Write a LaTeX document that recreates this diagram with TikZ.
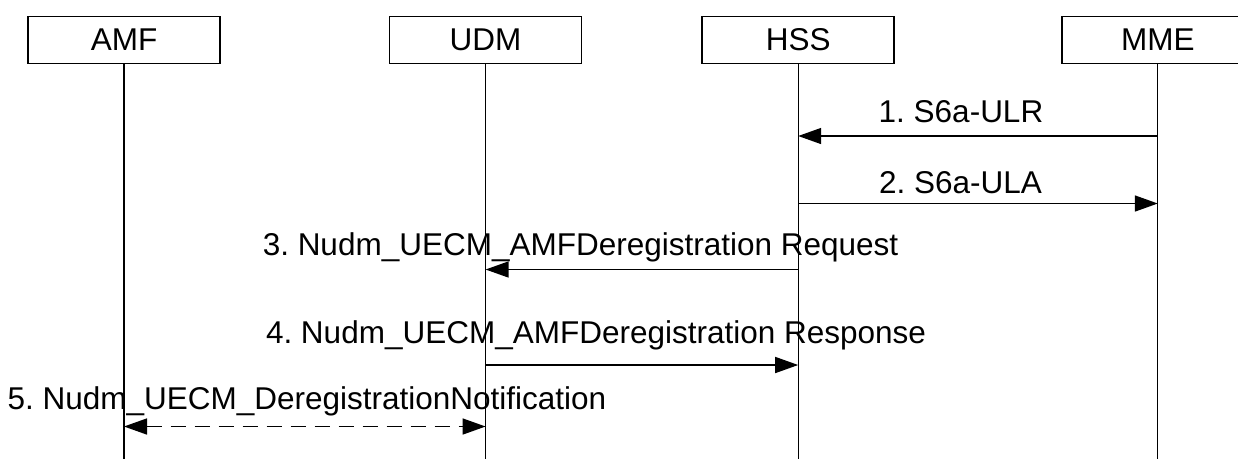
\documentclass[tikz,border=0pt]{standalone}
\usepackage{fontspec}
\setmainfont{Liberation Sans}
\usetikzlibrary{arrows.meta,positioning}
\frenchspacing

\begin{document}
\begin{tikzpicture}[
    x=1pt, y=-1pt,
    font=\fontsize{31.5}{38}\selectfont,
    entitynode/.style={rectangle, draw=black, line width=1.6pt, minimum width=192pt, minimum height=47pt, inner sep=0pt},
    lifeline/.style={draw=black, line width=1.1pt},
    msgarrow/.style={line width=1.5pt, -{Triangle[length=23pt,width=16pt]}},
    notifyarrow/.style={line width=1.5pt, {Triangle[length=23pt,width=16pt]}-{Triangle[length=23pt,width=16pt]}, dash pattern=on 15pt off 9pt},
    msglabel/.style={anchor=base, inner sep=0pt},
    ]
    \useasboundingbox (0,0) rectangle (1238,459);

    %Nodes
    \node[entitynode] (amf)                      at (124,40) {AMF};
    \node[entitynode] (udm) [right=168pt of amf]             {UDM};
    \node[entitynode] (hss) [right=119pt of udm]             {HSS};
    \node[entitynode] (mme) [right=166pt of hss]             {MME};

    % Lifeline ends and message points
    \coordinate (amfbottom) at (amf.south |- 0,459);
    \coordinate (udmbottom) at (udm.south |- 0,459);
    \coordinate (hssbottom) at (hss.south |- 0,459);
    \coordinate (mmebottom) at (mme.south |- 0,459);
    \coordinate (mme1) at (mme.south |- 0,136);
    \coordinate (hss1) at (hss.south |- 0,136);
    \coordinate (hss2) at (hss.south |- 0,203.5);
    \coordinate (mme2) at (mme.south |- 0,203.5);
    \coordinate (hss3) at (hss.south |- 0,269.5);
    \coordinate (udm3) at (udm.south |- 0,269.5);
    \coordinate (udm4) at (udm.south |- 0,365);
    \coordinate (hss4) at (hss.south |- 0,365);
    \coordinate (amf5) at (amf.south |- 0,426.5);
    \coordinate (udm5) at (udm.south |- 0,426.5);

    % Text labels (above messages)
    \node[msglabel] (ulr)    at (961,122)   {1. S6a-ULR};
    \node[msglabel] (ula)    at (960.5,193) {2. S6a-ULA};
    \node[msglabel] (deregreq)  at (580.5,255) {3. Nudm\_UECM\_AMFDeregistration Request};
    \node[msglabel] (deregresp) at (596,343)   {4. Nudm\_UECM\_AMFDeregistration Response};
    \node[msglabel] (deregnotif) at (307,409.5) {5. Nudm\_UECM\_DeregistrationNotification};

    %Lines
    \draw[lifeline] (amf.south) -- (amfbottom);
    \draw[lifeline] (udm.south) -- (udmbottom);
    \draw[lifeline] (hss.south) -- (hssbottom);
    \draw[lifeline] (mme.south) -- (mmebottom);
    \draw[msgarrow]    (mme1) -- (hss1);
    \draw[msgarrow]    (hss2) -- (mme2);
    \draw[msgarrow]    (hss3) -- (udm3);
    \draw[msgarrow]    (udm4) -- (hss4);
    \draw[notifyarrow] (amf5) -- (udm5);
\end{tikzpicture}
\end{document}
